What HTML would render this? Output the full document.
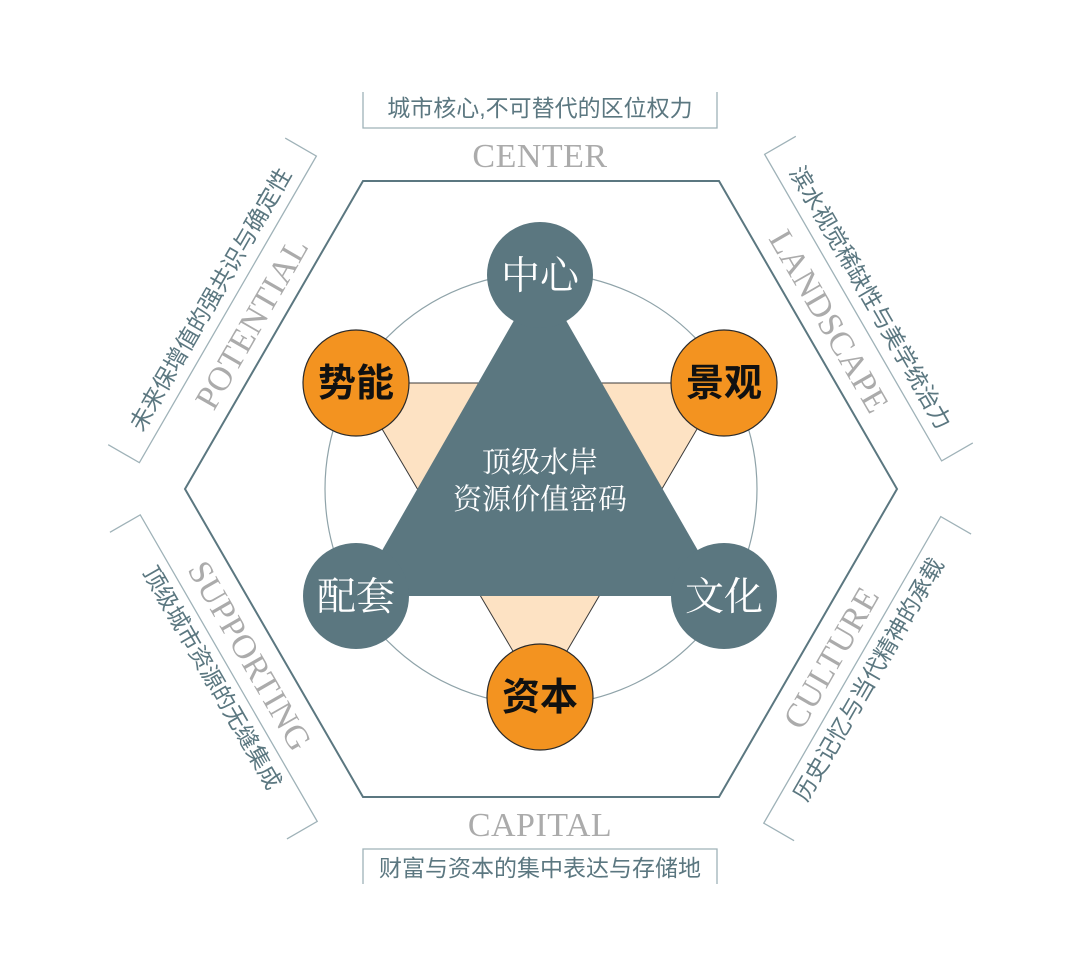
<!DOCTYPE html>
<html><head><meta charset="utf-8"><style>
html,body{margin:0;padding:0;background:#fff;}
svg{display:block}
.lab{font-family:"Liberation Sans","Noto Sans CJK SC",sans-serif;font-size:23px;fill:#5b7780;text-anchor:middle}
.en{font-family:"Liberation Serif",serif;font-size:34px;fill:#ababab;text-anchor:middle;letter-spacing:0.5px}
.ob{font-family:"Liberation Sans","Noto Sans CJK SC",sans-serif;font-weight:bold;font-size:38px;fill:#111;text-anchor:middle}
.tb{font-family:"Liberation Serif","Noto Serif CJK SC",serif;font-size:39px;fill:#fff;text-anchor:middle}
.ct{font-family:"Liberation Serif","Noto Serif CJK SC",serif;font-size:29px;fill:#fff;text-anchor:middle}
</style></head><body>
<svg width="1080" height="978" viewBox="0 0 1080 978">
<defs>
<g id="topbox">
<polyline points="363,92 363,128 717,128 717,92" fill="none" stroke="#9fb2b8" stroke-width="1.3"/>
</g>
<g id="botbox">
<polyline points="363,884 363,849 717,849 717,884" fill="none" stroke="#9fb2b8" stroke-width="1.3"/>
</g>
</defs>
<polygon points="185,489 363,181 719,181 897,489 719,797 363,797" fill="none" stroke="#5b7780" stroke-width="2"/>
<circle cx="541" cy="489" r="216" fill="none" stroke="#8fa3a9" stroke-width="1.2"/>
<polygon points="355,383 724,383 540,697" fill="#fde2c3" stroke="#3a3a3a" stroke-width="1"/>
<polygon points="540,275 356,596 724,596" fill="#5b7780"/>
<circle cx="540" cy="275" r="53" fill="#5b7780"/>
<circle cx="356" cy="596" r="53" fill="#5b7780"/>
<circle cx="724" cy="596" r="53" fill="#5b7780"/>
<circle cx="356" cy="383" r="53" fill="#f39320" stroke="#2a2a2a" stroke-width="1.2"/>
<circle cx="724" cy="383" r="53" fill="#f39320" stroke="#2a2a2a" stroke-width="1.2"/>
<circle cx="540" cy="697" r="53" fill="#f39320" stroke="#2a2a2a" stroke-width="1.2"/>
<text class="tb" x="540" y="289">中心</text>
<text class="tb" x="356" y="610">配套</text>
<text class="tb" x="724" y="610">文化</text>
<text class="ob" x="356" y="396">势能</text>
<text class="ob" x="724" y="396">景观</text>
<text class="ob" x="540" y="710">资本</text>
<text class="ct" x="540" y="472">顶级水岸</text>
<text class="ct" x="540" y="509">资源价值密码</text>
<g>
<use href="#topbox"/>
<text class="lab" x="540" y="116">城市核心,不可替代的区位权力</text>
<text class="en" x="540" y="167">CENTER</text>
</g>
<g transform="rotate(-60 541 489)">
<use href="#topbox"/>
<text class="lab" x="540" y="116">未来保增值的强共识与确定性</text>
<text class="en" x="540" y="167">POTENTIAL</text>
</g>
<g transform="rotate(60 541 489)">
<use href="#topbox"/>
<text class="lab" x="540" y="116">滨水视觉稀缺性与美学统治力</text>
<text class="en" x="540" y="167">LANDSCAPE</text>
</g>
<g>
<use href="#botbox"/>
<text class="lab" x="540" y="876">财富与资本的集中表达与存储地</text>
<text class="en" x="540" y="836">CAPITAL</text>
</g>
<g transform="rotate(60 541 489)">
<use href="#botbox"/>
<text class="lab" x="540" y="876">顶级城市资源的无缝集成</text>
<text class="en" x="540" y="836">SUPPORTING</text>
</g>
<g transform="rotate(-60 541 489)">
<use href="#botbox"/>
<text class="lab" x="540" y="876">历史记忆与当代精神的承载</text>
<text class="en" x="540" y="836">CULTURE</text>
</g>
</svg>
</body></html>
